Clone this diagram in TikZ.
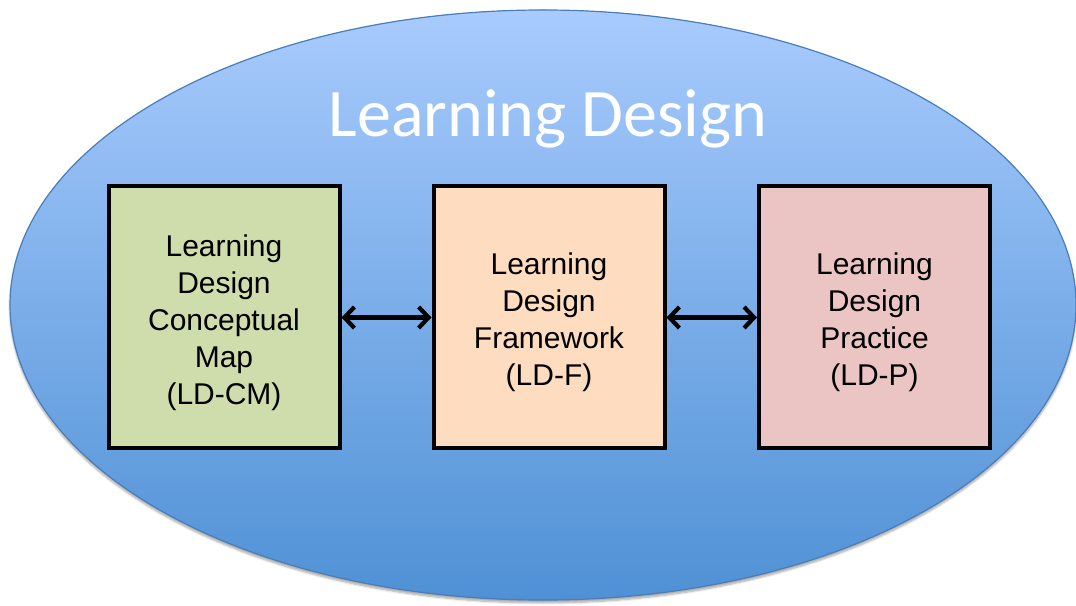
\documentclass[tikz,border=0pt]{standalone}
\usepackage{fontspec}
\setmainfont{Liberation Sans}
\newfontfamily\titlefont{Carlito}
\usetikzlibrary{arrows.meta,shadows.blur}
\definecolor{elltop}{HTML}{A8CBFD}
\definecolor{ellbot}{HTML}{4F91D5}
\definecolor{ellline}{HTML}{4A7EBB}
\definecolor{boxgreen}{HTML}{CFDCAC}
\definecolor{boxpeach}{HTML}{FDDCC0}
\definecolor{boxpink}{HTML}{EBC5C4}
\tikzset{
  ldbox/.style={draw=black,line width=4pt,minimum width=231pt,minimum height=262pt,inner sep=0pt},
  ldtext/.style={align=center,inner sep=0pt,font=\fontsize{30}{37}\selectfont},
  ldarrow/.style={line width=4.2pt,{Straight Barb[length=10pt,width=21pt]}-{Straight Barb[length=10pt,width=21pt]}}
}
\begin{document}
\begin{tikzpicture}[x=1pt,y=1pt]
\useasboundingbox (0,0) rectangle (1076,605);
\fill[top color=elltop,bottom color=ellbot,draw=ellline,line width=1.2pt,blur shadow={shadow xshift=0pt,shadow yshift=-3pt,shadow blur steps=6,shadow opacity=35}] (543,300) ellipse [x radius=533,y radius=295];
\node[anchor=base,text=white,font=\titlefont\fontsize{68}{80}\selectfont] (title) at (548,468) {Learning Design};
\node[ldbox,fill=boxgreen] (cm) at (224,287.5) {};
\node[ldbox,fill=boxpeach] (f) at (549,287.5) {};
\node[ldbox,fill=boxpink] (p) at (874.5,287.5) {};
\node[ldtext] (cmt) at ([yshift=-5pt]cm.center) {Learning\\Design\\Conceptual\\Map\\(LD-CM)};
\node[ldtext] (ft) at ([yshift=-5pt]f.center) {Learning\\Design\\Framework\\(LD-F)};
\node[ldtext] (pt) at ([yshift=-5pt]p.center) {Learning\\Design\\Practice\\(LD-P)};
\draw[ldarrow] (cm.east) -- (f.west);
\draw[ldarrow] (f.east) -- (p.west);
\end{tikzpicture}
\end{document}
